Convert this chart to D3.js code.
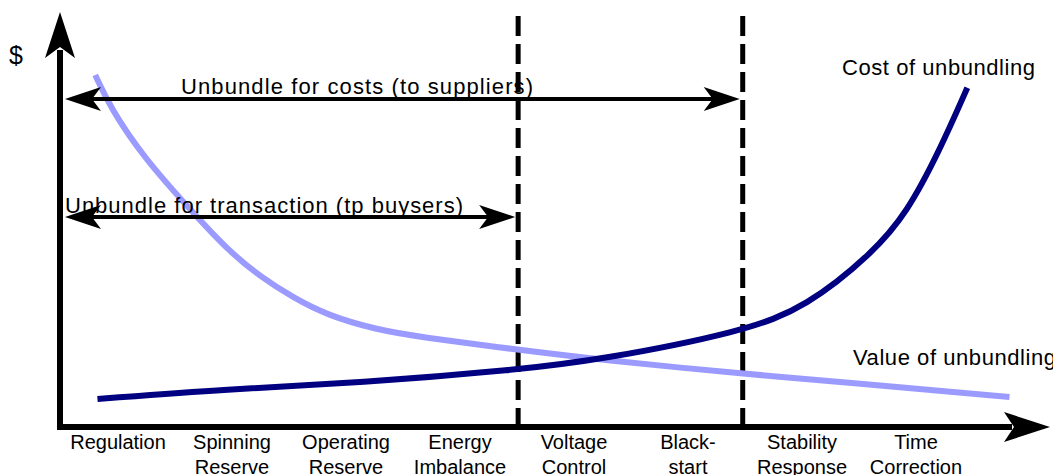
<!DOCTYPE html>
<html>
<head>
<meta charset="utf-8">
<script src="https://cdn.jsdelivr.net/npm/d3@7"></script>
<style>
  html, body { margin: 0; padding: 0; background: #fff; }
  svg { display: block; font-family: "Liberation Sans", Arial, sans-serif; }
</style>
</head>
<body>
<div id="chart"></div>
<script>
// ancillary services along the x axis (category i sits between i and i+1)
let categories = [["Regulation"], ["Spinning", "Reserve"], ["Operating", "Reserve"], ["Energy", "Imbalance"],
                  ["Voltage", "Control"], ["Black-", "start"], ["Stability", "Response"], ["Time", "Correction"]];

// dashed separators, in category units (between Energy Imbalance|Voltage Control and Black-start|Stability)
let boundaries = [4.01, 5.98];

// curves: [category position, $ level 0..100]
let valueCurve = [[0.30, 88], [0.43, 80], [0.72, 67.5], [1.16, 53.5], [1.46, 44.3], [1.75, 37.5],
                  [2.04, 32.3], [2.33, 28], [2.77, 24.3], [3.15, 22.5], [4.01, 19.3], [4.73, 16.8],
                  [5.98, 13.3], [6.83, 11.3], [8.32, 7.5]];
let costCurve = [[0.32, 7], [1.46, 9.5], [2.62, 11], [4.01, 14.3], [4.73, 16.8], [5.98, 23.8],
                 [6.54, 30], [7.12, 43.5], [7.42, 53.5], [7.71, 69.3], [7.95, 84.8]];

// double arrows: from axis to a boundary, at a $ level
let spans = [{"label": "Unbundle for costs (to suppliers)", "to": 1, "level": 82},
             {"label": "Unbundle for transaction (tp buysers)", "to": 0, "level": 52.5}];

const W = 1053, H = 475;
const svg = d3.select("#chart").append("svg").attr("width", W).attr("height", H);

let x = d3.scaleLinear().domain([0, 8]).range([61, 973]);
let y = d3.scaleLinear().domain([0, 100]).range([427, 27]);

// dashed separators
svg.selectAll(".sep").data(boundaries).enter().append("line")
  .attr("x1", d => x(d)).attr("x2", d => x(d))
  .attr("y1", 16).attr("y2", 428)
  .attr("stroke", "#000").attr("stroke-width", 5).attr("stroke-dasharray", "20,8");

// curves
let line = d3.line().x(d => x(d[0])).y(d => y(d[1])).curve(d3.curveBasis);
svg.append("path").attr("d", line(valueCurve)).attr("fill", "none")
  .attr("stroke", "#9b9bff").attr("stroke-width", 6);
svg.append("path").attr("d", line(costCurve)).attr("fill", "none")
  .attr("stroke", "#000080").attr("stroke-width", 6);

// axes
let x0 = x(0) - 1, y0 = y(0);
svg.append("line").attr("x1", x0).attr("x2", x0).attr("y1", y0 + 3).attr("y2", 50)
  .attr("stroke", "#000").attr("stroke-width", 6);
svg.append("path").attr("d", `M${x0},12 L${x0 + 15},58 L${x0},47 L${x0 - 15},58 Z`).attr("fill", "#000");
svg.append("line").attr("x1", x0 - 3).attr("x2", 1012).attr("y1", y0).attr("y2", y0)
  .attr("stroke", "#000").attr("stroke-width", 6);
svg.append("path").attr("d", `M1050,${y0} L1004,${y0 - 15} L1014,${y0} L1004,${y0 + 15} Z`).attr("fill", "#000");

// double arrows
let head = function(tx, ty, dir){
  return `M${tx},${ty} L${tx + dir * 36},${ty - 12} L${tx + dir * 27},${ty} L${tx + dir * 36},${ty + 12} Z`;
};
spans.forEach(s => {
  let xl = x0 + 5, xr = x(boundaries[s.to]) - 3, yy = y(s.level);
  svg.append("line").attr("x1", xl + 20).attr("x2", xr - 20).attr("y1", yy).attr("y2", yy)
    .attr("stroke", "#000").attr("stroke-width", 4);
  svg.append("path").attr("d", head(xl, yy, 1)).attr("fill", "#000");
  svg.append("path").attr("d", head(xr, yy, -1)).attr("fill", "#000");
});

// texts
let txt = function(t, tx, ty, size, len, anchor){
  let e = svg.append("text").attr("x", tx).attr("y", ty).attr("font-size", size)
    .attr("fill", "#000").attr("text-anchor", anchor || "start").text(t);
  if (len) e.attr("textLength", len).attr("lengthAdjust", "spacing");
  return e;
};
txt(spans[0].label, 181, 94, 22, 352);
txt(spans[1].label, 65, 213, 22, 398);
txt("Cost of unbundling", 842, 75, 22, 193);
txt("Value of unbundling", 853, 365, 22, 203);
txt("$", 9, 64, 25);

categories.forEach((c, i) => {
  c.forEach((t, j) => txt(t, x(i + 0.5), 449 + j * 25, 20, null, "middle"));
});
</script>
</body>
</html>
